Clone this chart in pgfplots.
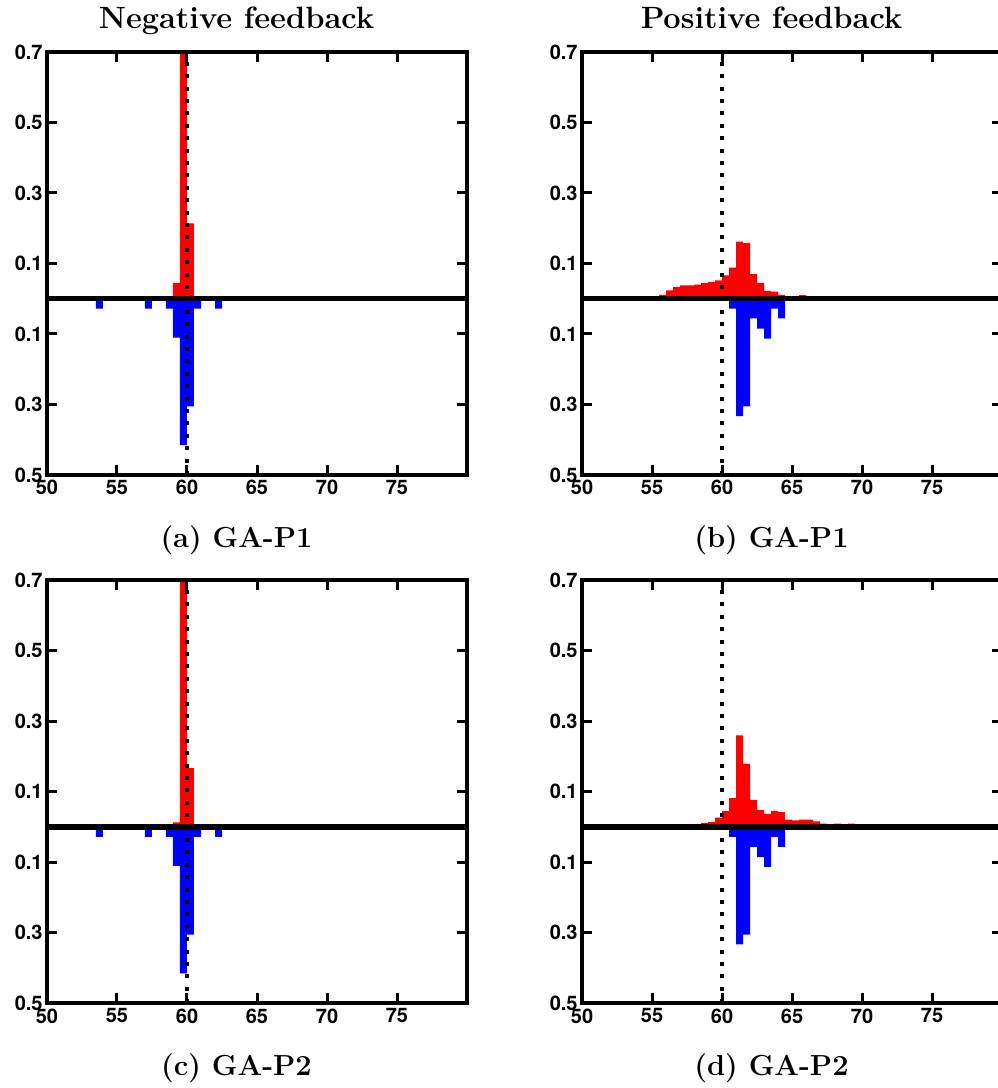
\documentclass[border=0pt]{standalone}
\usepackage{fontspec}
\newfontfamily\helv{TeX Gyre Heros}
\usepackage{pgfplots}
\pgfplotsset{compat=1.18}

\pgfplotsset{fbpanel/.style={
  width=210pt, height=211.5pt, scale only axis, anchor=south west,
  xmin=50, xmax=80, ymin=-0.5, ymax=0.7,
  xtick={50,55,60,65,70,75}, xticklabels={50,55,60,65,70,75},
  ytick={-0.5,-0.3,-0.1,0.1,0.3,0.5,0.7},
  yticklabels={0.5,0.3,0.1,0.1,0.3,0.5,0.7},
  tick align=inside, major tick length=5pt,
  tick style={black, line width=1.5pt},
  axis line style={line width=2pt},
  ticklabel style={font=\helv\bfseries\fontsize{10}{10}\selectfont},
  yticklabel style={inner sep=2pt},
  xticklabel style={inner sep=2.5pt},
  axis on top,
}}

% blue (lower) bars are the same in (a) and (c)
\pgfplotstableread{
x y
53.5 -0.028
54 0
54.5 0
55 0
55.5 0
56 0
56.5 0
57 -0.028
57.5 0
58 0
58.5 -0.028
59 -0.11
59.5 -0.415
60 -0.305
60.5 -0.028
61 0
61.5 0
62 -0.028
62.5 0
}\negblue

% blue bars of (b) and (d)
\pgfplotstableread{
x y
60.5 -0.028
61 -0.333
61.5 -0.305
62 -0.056
62.5 -0.085
63 -0.113
63.5 -0.028
64 -0.056
64.5 0
}\posblue

\pgfplotstableread{
x y
55 0.005
55.5 0.011
56 0.024
56.5 0.033
57 0.038
57.5 0.038
58 0.040
58.5 0.044
59 0.048
59.5 0.052
60 0.066
60.5 0.088
61 0.162
61.5 0.158
62 0.070
62.5 0.045
63 0.022
63.5 0.020
64 0.011
64.5 0.005
65 0.005
65.5 0.010
66 0.003
66.5 0
}\redb

\pgfplotstableread{
x y
58.5 0.012
59 0.015
59.5 0.027
60 0.045
60.5 0.082
61 0.260
61.5 0.179
62 0.077
62.5 0.049
63 0.037
63.5 0.046
64 0.042
64.5 0.021
65 0.019
65.5 0.021
66 0.021
66.5 0.016
67 0.010
67.5 0.007
68 0.010
68.5 0.007
69 0.010
69.5 0.005
70 0
}\redd

\begin{document}
\begin{tikzpicture}

% (a)
\begin{axis}[fbpanel, at={(23.5pt,306.5pt)}]
\addplot[ybar interval, fill=red, draw=none] coordinates {(59,0.045)(59.5,0.8)(60,0.214)(60.5,0)};
\addplot[ybar interval, fill=blue, draw=none] table {\negblue};
\addplot[black, line width=2.7pt] coordinates {(50,0)(80,0)};
\addplot[black, line width=1.7pt, dash pattern=on 2pt off 4.2pt] coordinates {(60,-0.5)(60,0.7)};
\end{axis}

% (b)
\begin{axis}[fbpanel, at={(291pt,306.5pt)}]
\addplot[ybar interval, fill=red, draw=none] table {\redb};
\addplot[ybar interval, fill=blue, draw=none] table {\posblue};
\addplot[black, line width=2.7pt] coordinates {(50,0)(80,0)};
\addplot[black, line width=1.7pt, dash pattern=on 2pt off 4.2pt] coordinates {(60,-0.5)(60,0.7)};
\end{axis}

% (c)
\begin{axis}[fbpanel, at={(23.5pt,42.35pt)}]
\addplot[ybar interval, fill=red, draw=none] coordinates {(59,0.013)(59.5,0.8)(60,0.167)(60.5,0)};
\addplot[ybar interval, fill=blue, draw=none] table {\negblue};
\addplot[black, line width=2.7pt] coordinates {(50,0)(80,0)};
\addplot[black, line width=1.7pt, dash pattern=on 2pt off 4.2pt] coordinates {(60,-0.5)(60,0.7)};
\end{axis}

% (d)
\begin{axis}[fbpanel, at={(291pt,42.35pt)}]
\addplot[ybar interval, fill=red, draw=none] table {\redd};
\addplot[ybar interval, fill=blue, draw=none] table {\posblue};
\addplot[black, line width=2.7pt] coordinates {(50,0)(80,0)};
\addplot[black, line width=1.7pt, dash pattern=on 2pt off 4.2pt] coordinates {(60,-0.5)(60,0.7)};
\end{axis}

\node[anchor=base] at (118.25pt,529.5pt) {\bfseries\fontsize{15.4}{16}\selectfont Negative feedback};
\node[anchor=base] at (385.75pt,529.5pt) {\bfseries\fontsize{15.4}{16}\selectfont Positive feedback};
\node[anchor=base] at (118.25pt,270.2pt) {\bfseries\fontsize{14.5}{15}\selectfont (a) GA-P1};
\node[anchor=base] at (385.75pt,270.2pt) {\bfseries\fontsize{14.5}{15}\selectfont (b) GA-P1};
\node[anchor=base] at (118.25pt,6pt) {\bfseries\fontsize{14.5}{15}\selectfont (c) GA-P2};
\node[anchor=base] at (385.75pt,6pt) {\bfseries\fontsize{14.5}{15}\selectfont (d) GA-P2};

\pgfresetboundingbox
\path[use as bounding box] (0pt,0pt) rectangle (498.5pt,544pt);
\end{tikzpicture}
\end{document}
